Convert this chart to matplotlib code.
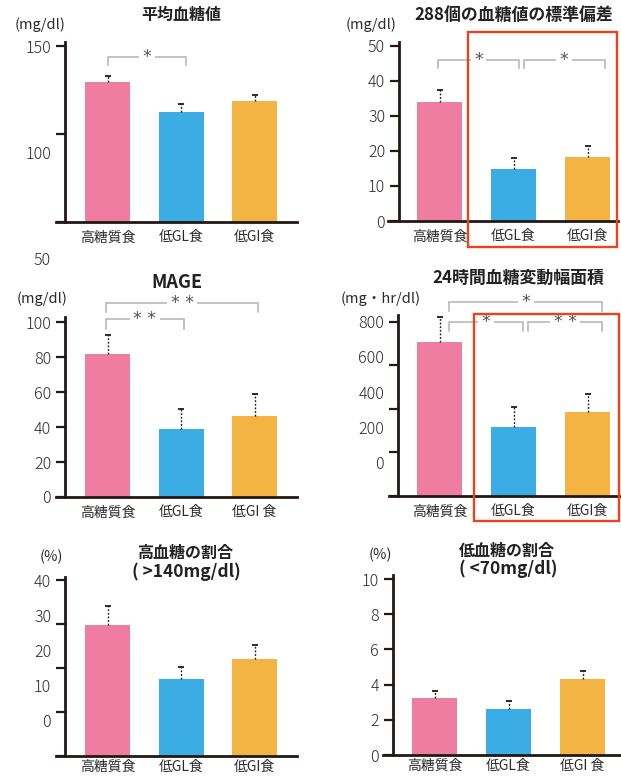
import matplotlib
matplotlib.use("Agg")
import matplotlib.pyplot as plt
import matplotlib.transforms as mtransforms
from matplotlib.patches import Rectangle

plt.rcParams['font.family'] = ['Noto Sans CJK JP', 'DejaVu Sans']

W, H = 621, 776
DPI = 100

# ---- data -------------------------------------------------------------
categories = ["高糖質食", "低GL食", "低GI食"]
categories_spaced = ["高糖質食", "低GL食", "低GI 食"]
bar_colors = ["#ee7da1", "#3badE4", "#f4b443"]

mean_glucose = [129.5, 112.5, 118.7]
mean_glucose_err = [3.5, 4.5, 3.5]

glucose_sd = [34.0, 14.9, 18.3]
glucose_sd_err = [3.4, 3.1, 3.1]

mage = [81.7, 38.9, 46.3]
mage_err = [10.9, 11.4, 12.6]

auc_24h = [708, 317, 386]
auc_24h_err = [115, 92, 83]

high_pct = [29.8, 17.5, 22.0]
high_pct_err = [4.3, 2.7, 3.2]

low_pct = [3.24, 2.60, 4.30]
low_pct_err = [0.40, 0.47, 0.47]

# ---- style ------------------------------------------------------------
INK = "#231815"
TEXT = "#2b2b2b"
BRACKET = "#b3b3b3"
STAR = "#555555"
HIGHLIGHT = "#e9431f"

fig = plt.figure(figsize=(W / DPI, H / DPI), dpi=DPI)
fig.patch.set_facecolor("white")


def px_box(l, t, r, b):
    return [l / W, 1 - b / H, (r - l) / W, (b - t) / H]


def fig_text(x, y, s, **kw):
    fig.text(x / W, 1 - y / H, s, **kw)


def panel(box, spine_px, c0, step, ylim, ticks, labels, values, errs,
          xlabels=categories, label_ratio=1.0, xpad=6):
    l, t, r, b = box
    ax = fig.add_axes(px_box(*box))
    ax.set_xlim((l - c0) / step, (r - c0) / step)
    ax.set_ylim(*ylim)
    ax.patch.set_alpha(0)
    for s in ("top", "right"):
        ax.spines[s].set_visible(False)
    spine_frac = (spine_px - l) / (r - l)
    ax.spines["left"].set_position(("axes", spine_frac))
    for s in ("left", "bottom"):
        ax.spines[s].set_linewidth(2.0)
        ax.spines[s].set_color(INK)

    x = list(range(len(values)))
    width = 45 / step
    ax.bar(x, values, width=width, color=bar_colors, zorder=2)
    tops = [v + e for v, e in zip(values, errs)]
    ax.vlines(x, values, tops, colors=INK, linewidth=1.0,
              linestyles=(0, (1.3, 1.3)), zorder=3)
    ax.plot(x, tops, linestyle="none", marker="_", markersize=4.5,
            markeredgewidth=1.3, color=INK, zorder=3)

    # y ticks on the spine, labels set beside them
    ax.set_yticks(ticks)
    ax.set_yticklabels([])
    ax.tick_params(axis="y", direction="out", length=6.8, width=1.6,
                   color=INK)
    top_tick = max(ticks)
    trans = mtransforms.blended_transform_factory(ax.transAxes, ax.transData)
    trans = trans + mtransforms.ScaledTranslation(-10 / 72, 0, fig.dpi_scale_trans)
    for tv, lab in zip(ticks, labels):
        yl = top_tick - (top_tick - tv) * label_ratio
        ax.text(spine_frac, yl, lab, transform=trans, ha="right",
                va="center_baseline", fontsize=11.5, weight="light",
                color=TEXT, clip_on=False)

    ax.set_xticks(x)
    ax.set_xticklabels(xlabels, fontsize=10, color=TEXT)
    ax.tick_params(axis="x", length=0, pad=xpad)
    return ax


def bracket(ax, x0, x1, y_top, y_leg, mark):
    ax.plot([x0, x0, x1, x1], [y_leg, y_top, y_top, y_leg], color=BRACKET,
            linewidth=1.1, clip_on=False, zorder=4, solid_joinstyle="miter")
    ax.text((x0 + x1) / 2, y_top, mark, ha="center", va="center",
            fontsize=12.5, color=STAR, family="DejaVu Sans", zorder=5,
            bbox=dict(boxstyle="square,pad=0.2", fc="white", ec="none"),
            clip_on=False)


def highlight(ax, x0, x1, y0, y1):
    trans = mtransforms.blended_transform_factory(ax.transData, ax.transAxes)
    ax.add_patch(Rectangle((x0, y0), x1 - x0, y1 - y0, transform=trans,
                           fill=False, ec=HIGHLIGHT, lw=1.7, clip_on=False,
                           zorder=6))


TITLE_KW = dict(ha="center", va="center", fontsize=11.5, weight="bold",
                color="#222222")
UNIT_KW = dict(ha="right", va="center", fontsize=10.5, color=TEXT)

# ---- 平均血糖値 ---------------------------------------------------------
ax1 = panel((56, 42, 297, 222), 65, 107.5, 73.5, (50, 152.3),
            [50, 100, 150], ["50", "100", "150"],
            mean_glucose, mean_glucose_err, label_ratio=1.21)
bracket(ax1, 0.0, 1.07, 143.8, 139.2, "*")
fig_text(181, 15, "平均血糖値", **TITLE_KW)
fig_text(65, 25, "(mg/dl)", **UNIT_KW)

# ---- 288個の血糖値の標準偏差 ----------------------------------------------
ax2 = panel((388, 42, 618, 221), 399, 439.5, 74, (0, 51.1),
            [0, 10, 20, 30, 40, 50], ["0", "10", "20", "30", "40", "50"],
            glucose_sd, glucose_sd_err)
bracket(ax2, -0.02, 1.07, 46.0, 43.7, "*")
bracket(ax2, 1.14, 2.23, 46.0, 43.7, "*")
highlight(ax2, 0.385, 2.40, -0.145, 1.056)
fig_text(514, 15, "288個の血糖値の標準偏差", **{**TITLE_KW, "fontsize": 12.2})
fig_text(397, 25, "(mg/dl)", **UNIT_KW)

# ---- MAGE ---------------------------------------------------------------
ax3 = panel((56, 317, 297, 497), 65, 107.5, 73.5, (0, 102.9),
            [0, 20, 40, 60, 80, 100], ["0", "20", "40", "60", "80", "100"],
            mage, mage_err, xlabels=categories_spaced)
bracket(ax3, -0.02, 2.05, 110.9, 105.7, "* *")
bracket(ax3, -0.02, 1.04, 101.7, 96.0, "* *")
fig_text(177, 283, "MAGE", **{**TITLE_KW, "fontsize": 13})
fig_text(67, 299, "(mg/dl)", **UNIT_KW)

# ---- 24時間血糖変動幅面積 ---------------------------------------------------
ax4 = panel((389, 315, 620, 496), 398, 439.5, 74, (0, 832),
            [0, 200, 400, 600, 800], ["0", "200", "400", "600", "800"],
            auc_24h, auc_24h_err, label_ratio=0.805)
bracket(ax4, 0.13, 2.2, 892, 851, "*")
bracket(ax4, 0.13, 1.13, 800, 759, "*")
bracket(ax4, 1.2, 2.2, 800, 759, "* *")
highlight(ax4, 0.466, 2.426, -0.138, 1.006)
fig_text(518, 278, "24時間血糖変動幅面積", **{**TITLE_KW, "fontsize": 12.2})
fig_text(381, 299, "(mg・hr/dl)", **{**UNIT_KW, "ha": "center"})

# ---- 高血糖の割合 -----------------------------------------------------------
ax5 = panel((56, 577, 297, 756), 65, 107.5, 73.5, (0, 40.7),
            [0, 10, 20, 30, 40], ["0", "10", "20", "30", "40"],
            high_pct, high_pct_err, label_ratio=0.80, xpad=3)
fig_text(185, 553, "高血糖の割合", **TITLE_KW)
fig_text(186, 572, "( >140mg/dl)", **{**TITLE_KW, "fontsize": 12.5})
fig_text(63, 557, "(%)", **UNIT_KW)

# ---- 低血糖の割合 -----------------------------------------------------------
ax6 = panel((383, 575, 620, 755), 393, 434.5, 74, (0, 10.23),
            [0, 2, 4, 6, 8, 10], ["0", "2", "4", "6", "8", "10"],
            low_pct, low_pct_err, xlabels=categories_spaced, xpad=3)
fig_text(507, 551, "低血糖の割合", **TITLE_KW)
fig_text(508, 569, "( <70mg/dl)", **{**TITLE_KW, "fontsize": 12.5})
fig_text(392, 555, "(%)", **UNIT_KW)

fig.savefig("out.png", dpi=DPI, facecolor="white")
